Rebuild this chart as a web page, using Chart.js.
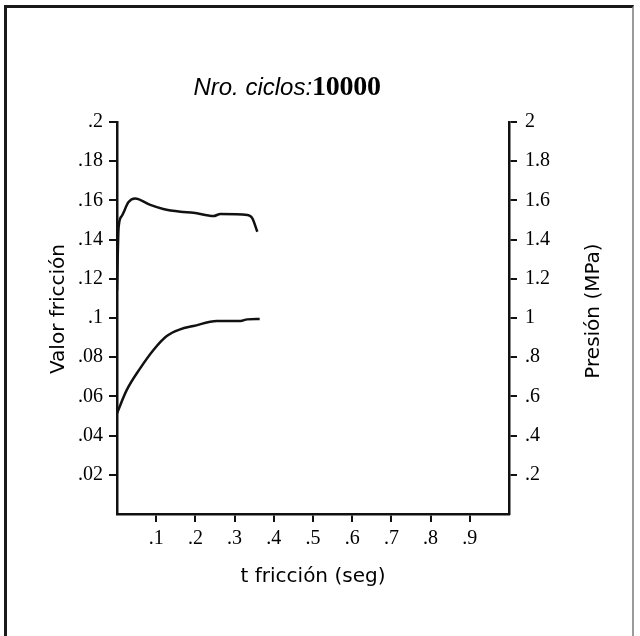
<!DOCTYPE html>
<html>
<head>
<meta charset="utf-8">
<script src="https://cdn.jsdelivr.net/npm/chart.js@4"></script>
<style>
  body { margin: 0; background: #fff; }
  #wrap { position: relative; width: 640px; height: 636px; overflow: hidden; }
  #chart { position: absolute; left: 0; top: 0; }
  .frame {
    position: absolute; left: 4px; top: 5px; width: 625px; height: 640px;
    border-top: 3px solid #1a1a1a; border-left: 3px solid #1a1a1a; border-right: 2px solid #9a9a9a;
  }
  #titulo {
    position: absolute; left: 0; width: 574px; top: 70px; line-height: 28px;
    text-align: center; color: #000; white-space: nowrap;
  }
  #titulo .a { font: italic 24px "Liberation Sans", Arial, sans-serif; }
  #titulo .b { font: bold 28px "Liberation Serif", "Times New Roman", serif; letter-spacing: -0.3px; }
  .ylab {
    position: absolute; font: 20px "DejaVu Sans", sans-serif; color: #000; white-space: nowrap;
    transform: translate(-50%, -50%) rotate(-90deg);
  }
</style>
</head>
<body>
<div id="wrap">
  <canvas id="chart" width="640" height="636"></canvas>
  <div class="frame"></div>
  <div id="titulo"><span class="a">Nro. ciclos:</span><span class="b">10000</span></div>
  <div class="ylab" style="left:57px; top:309px;">Valor fricción</div>
  <div class="ylab" style="left:592px; top:311px;">Presión (MPa)</div>
</div>
<script>
// curva superior: valor de friccion (eje izquierdo)
const tFriccion = [0, 0.004, 0.012, 0.029, 0.046, 0.085, 0.118, 0.162, 0.195, 0.246, 0.264, 0.333, 0.345, 0.358];
const valorFriccion = [0.114, 0.146, 0.152, 0.159, 0.161, 0.1577, 0.1556, 0.1542, 0.1537, 0.152, 0.1531, 0.1526, 0.151, 0.144];

// curva inferior: presion en MPa (eje derecho)
const tPresion = [0, 0.025, 0.059, 0.093, 0.127, 0.161, 0.195, 0.255, 0.315, 0.332, 0.364];
const presion = [0.514, 0.633, 0.743, 0.837, 0.908, 0.942, 0.959, 0.985, 0.985, 0.993, 0.995];

const X_TITLE = "t fricción (seg)";
const TICK_FONT = { family: "Liberation Serif", size: 20 };
const INK = "#111";

function shortNum(v) {
  return String(Number(v.toFixed(2))).replace(/^0\./, ".");
}

function tickColor(hideValues) {
  return ctx => (ctx.tick && hideValues.some(h => Math.abs(ctx.tick.value - h) < 1e-9)) ? "rgba(0,0,0,0)" : INK;
}

function toPoints(xs, ys) {
  return xs.map((x, i) => ({ x, y: ys[i] }));
}

new Chart(document.getElementById("chart"), {
  type: "line",
  data: {
    datasets: [
      {
        label: "Valor fricción",
        data: toPoints(tFriccion, valorFriccion),
        yAxisID: "yF",
        borderColor: INK,
        borderWidth: 2.5,
        pointRadius: 0,
        cubicInterpolationMode: "monotone"
      },
      {
        label: "Presión",
        data: toPoints(tPresion, presion),
        yAxisID: "yP",
        borderColor: INK,
        borderWidth: 2.5,
        pointRadius: 0,
        cubicInterpolationMode: "monotone"
      }
    ]
  },
  options: {
    responsive: false,
    animation: false,
    layout: { padding: { top: 122, left: 0, right: 0, bottom: 0 } },
    plugins: { legend: { display: false }, tooltip: { enabled: false } },
    scales: {
      x: {
        type: "linear",
        min: 0,
        max: 1,
        afterFit: s => { s.height = 636 - 514; },
        border: { display: true, color: INK, width: 2.5 },
        grid: { drawOnChartArea: false, tickLength: 8, lineWidth: 2, color: INK, tickColor: tickColor([0, 1]) },
        ticks: {
          stepSize: 0.1,
          autoSkip: false,
          maxRotation: 0,
          padding: 5,
          color: "#000",
          font: TICK_FONT,
          callback: v => (v <= 0 || v >= 1) ? "" : shortNum(v)
        },
        title: {
          display: true,
          text: X_TITLE,
          color: "#000",
          font: { family: "DejaVu Sans", size: 20 },
          padding: { top: 0, bottom: 47 }
        }
      },
      yF: {
        type: "linear",
        position: "left",
        min: 0,
        max: 0.2,
        afterFit: s => { s.width = 117; },
        border: { display: true, color: INK, width: 2.5 },
        grid: { drawOnChartArea: false, tickLength: 8, lineWidth: 2, color: INK, tickColor: tickColor([0]) },
        ticks: {
          stepSize: 0.02,
          padding: 6,
          color: "#000",
          font: TICK_FONT,
          callback: v => v <= 0 ? "" : shortNum(v)
        }
      },
      yP: {
        type: "linear",
        position: "right",
        min: 0,
        max: 2,
        afterFit: s => { s.width = 640 - 509; },
        border: { display: true, color: INK, width: 2.5 },
        grid: { drawOnChartArea: false, tickLength: 8, lineWidth: 2, color: INK, tickColor: tickColor([0]) },
        ticks: {
          stepSize: 0.2,
          padding: 8,
          color: "#000",
          font: TICK_FONT,
          callback: v => v <= 0 ? "" : shortNum(v)
        }
      }
    }
  }
});
</script>
</body>
</html>
